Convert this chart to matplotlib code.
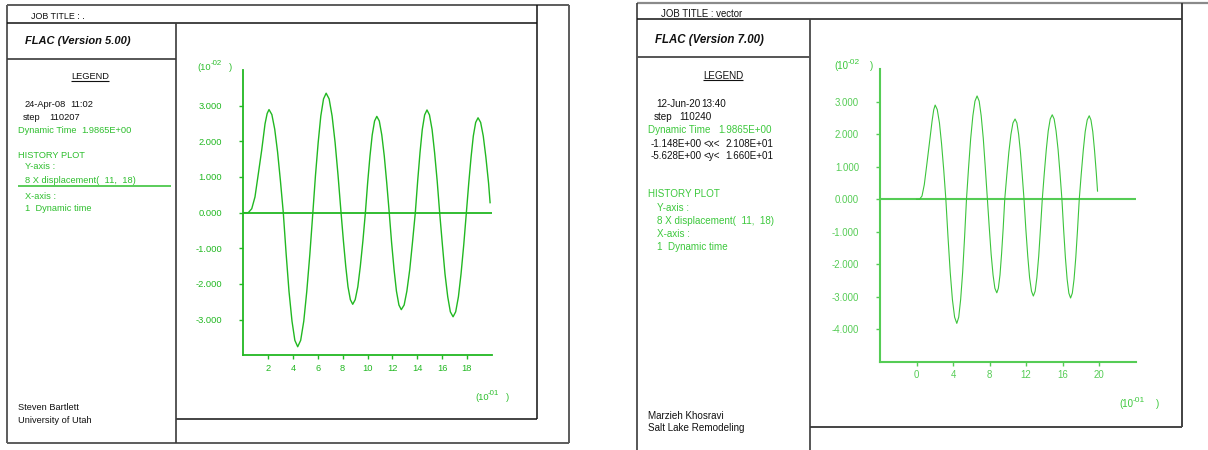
import matplotlib
matplotlib.use("Agg")
import matplotlib.pyplot as plt

plt.rcParams['font.family'] = ['Liberation Sans', 'DejaVu Sans']

# ---- history data: dynamic time (x 10^-1 s) vs x displacement (x 10^-2) ----
v5_time = [0.00, 0.40, 0.68, 0.94, 1.21, 1.48, 1.75, 1.92, 2.07, 2.30, 2.53, 2.76, 2.99, 3.22,
           3.45, 3.68, 3.92, 4.15, 4.38, 4.62, 4.87, 5.11, 5.36, 5.60,
           5.81, 6.03, 6.24, 6.46, 6.67, 6.91, 7.15, 7.39, 7.63, 7.87,
           8.06, 8.25, 8.43, 8.62, 8.81, 9.01, 9.22, 9.42, 9.63, 9.83,
           10.01, 10.20, 10.38, 10.57, 10.75, 10.95, 11.15, 11.35, 11.55, 11.75,
           11.94, 12.14, 12.33, 12.53, 12.72, 12.95, 13.17, 13.40, 13.62, 13.85,
           14.04, 14.23, 14.41, 14.60, 14.79, 14.99, 15.20, 15.40, 15.61, 15.81,
           16.03, 16.24, 16.46, 16.67, 16.89, 17.10, 17.32, 17.53, 17.75, 17.96,
           18.15, 18.34, 18.52, 18.71, 18.90, 19.11, 19.32, 19.53, 19.75, 19.87]
v5_xdisp = [0.00, 0.00, 0.11, 0.44, 1.09, 1.75, 2.49, 2.78, 2.89, 2.75, 2.34, 1.70, 0.89, 0.00,
            -1.16, -2.21, -3.04, -3.58, -3.76, -3.58, -3.04, -2.21, -1.16, 0.00,
            1.04, 1.97, 2.71, 3.19, 3.35, 3.19, 2.71, 1.97, 1.04, 0.00,
            -0.79, -1.51, -2.08, -2.44, -2.57, -2.44, -2.08, -1.51, -0.79, 0.00,
            0.83, 1.59, 2.18, 2.57, 2.70, 2.57, 2.18, 1.59, 0.83, 0.00,
            -0.84, -1.60, -2.20, -2.59, -2.72, -2.59, -2.20, -1.60, -0.84, 0.00,
            0.89, 1.69, 2.33, 2.74, 2.88, 2.74, 2.33, 1.69, 0.89, 0.00,
            -0.90, -1.72, -2.36, -2.78, -2.92, -2.78, -2.36, -1.72, -0.90, 0.00,
            0.82, 1.56, 2.15, 2.53, 2.66, 2.53, 2.15, 1.56, 0.82, 0.28]

v7_time = [0.00, 0.33, 0.60, 0.85, 1.13, 1.42, 1.70, 1.88, 2.04, 2.27, 2.51, 2.74, 2.98, 3.21,
           3.45, 3.69, 3.93, 4.17, 4.41, 4.62, 4.83, 5.05, 5.26, 5.47,
           5.70, 5.93, 6.17, 6.40, 6.63, 6.86, 7.08, 7.31, 7.53, 7.76,
           7.97, 8.17, 8.38, 8.58, 8.79, 8.96, 9.14, 9.31, 9.49, 9.66,
           9.89, 10.11, 10.34, 10.56, 10.79, 10.99, 11.18, 11.38, 11.57, 11.77,
           11.97, 12.18, 12.38, 12.59, 12.79, 12.99, 13.18, 13.38, 13.57, 13.77,
           13.99, 14.21, 14.42, 14.64, 14.86, 15.07, 15.28, 15.50, 15.71, 15.92,
           16.11, 16.30, 16.49, 16.68, 16.87, 17.06, 17.25, 17.44, 17.63, 17.82,
           18.04, 18.26, 18.47, 18.69, 18.91, 19.10, 19.30, 19.49, 19.69, 19.82]
v7_xdisp = [0.00, 0.00, 0.10, 0.45, 1.08, 1.75, 2.40, 2.75, 2.90, 2.76, 2.35, 1.71, 0.90, 0.00,
            -1.18, -2.25, -3.09, -3.63, -3.82, -3.63, -3.09, -2.25, -1.18, 0.00,
            0.98, 1.87, 2.57, 3.02, 3.18, 3.02, 2.57, 1.87, 0.98, 0.00,
            -0.89, -1.69, -2.33, -2.74, -2.88, -2.74, -2.33, -1.69, -0.89, 0.00,
            0.76, 1.45, 2.00, 2.35, 2.47, 2.35, 2.00, 1.45, 0.76, 0.00,
            -0.92, -1.75, -2.41, -2.83, -2.98, -2.83, -2.41, -1.75, -0.92, 0.00,
            0.80, 1.53, 2.10, 2.47, 2.60, 2.47, 2.10, 1.53, 0.80, 0.00,
            -0.94, -1.79, -2.46, -2.89, -3.04, -2.89, -2.46, -1.79, -0.94, 0.00,
            0.79, 1.51, 2.08, 2.44, 2.57, 2.44, 2.08, 1.51, 0.79, 0.25]

v5_xticks = [2, 4, 6, 8, 10, 12, 14, 16, 18]
v5_yticks = [-3, -2, -1, 0, 1, 2, 3]
v7_xticks = [0, 4, 8, 12, 16, 20]
v7_yticks = [-4, -3, -2, -1, 0, 1, 2, 3]

# ---- page setup (pixel coordinates, y downward) ----
W, H = 1208, 450
fig = plt.figure(figsize=(W / 100, H / 100), dpi=100)
page = fig.add_axes([0, 0, 1, 1])
page.set_xlim(0, W)
page.set_ylim(H, 0)
page.axis('off')

DARK = '#111111'
FRAME = '#5c5c5c'
G5 = '#2ebf2e'
G7 = '#3cc83c'


def seg(x0, y0, x1, y1, color=DARK, lw=1.1):
    page.plot([x0, x1], [y0, y1], color=color, lw=lw, solid_capstyle='butt')


def txt(x, y, s, size, color=DARK, **kw):
    page.text(x, y, s, fontsize=size, color=color, ha='left', va='baseline', **kw)


def scale_label(x, y, exp, size, color, close_dx):
    txt(x, y, '(10', size, color)
    txt(x + 12.6 * size / 6.5, y - 5.0, exp, size * 0.85, color)
    txt(x + close_dx, y, ')', size, color)


def chart(box, t, d, xlim, ylim, xticks, yticks, axis_color, curve_color,
          lw_axis, lw_curve, fs, ypad, xpad):
    x0, y0, x1, y1 = box
    ax = fig.add_axes([x0 / W, 1 - y1 / H, (x1 - x0) / W, (y1 - y0) / H])
    ax.patch.set_alpha(0)
    ax.set_xlim(*xlim)
    ax.set_ylim(*ylim)
    for s in ('top', 'right'):
        ax.spines[s].set_visible(False)
    for s in ('left', 'bottom'):
        ax.spines[s].set_color(axis_color)
        ax.spines[s].set_linewidth(lw_axis)
    ax.axhline(0, color=axis_color, lw=lw_axis)
    ax.plot(t, d, color=curve_color, lw=lw_curve)
    ax.set_xticks(xticks)
    ax.set_xticklabels([str(v) for v in xticks])
    ax.set_yticks(yticks)
    ax.set_yticklabels([f"{v:.3f}" for v in yticks])
    ax.tick_params(colors=axis_color, labelcolor=axis_color, labelsize=fs,
                   length=3, width=1.0, direction='out')
    ax.tick_params(axis='y', pad=ypad)
    ax.tick_params(axis='x', pad=xpad)
    return ax


# ================= FLAC 5.00 panel =================
seg(7, 5, 569, 5, FRAME, 1.4)
seg(7, 5, 7, 443, FRAME, 1.4)
seg(569, 5, 569, 443, FRAME, 1.4)
seg(7, 443, 569, 443, FRAME, 1.4)
seg(7, 22.7, 536.7, 22.7)
seg(536.7, 5, 536.7, 419)
seg(176, 419, 536.7, 419)
seg(176, 22.7, 176, 443, '#3a3a3a', 1.2)
seg(7, 59.3, 176, 59.3, '#3a3a3a', 1.2)

FS5 = 6.7
txt(30.7, 19, 'JOB TITLE : .', 6.4)
txt(25, 44.3, 'FLAC (Version 5.00)', 8.0, weight='bold', style='italic')
txt(71, 79, 'LEGEND', FS5)
seg(71, 80.8, 109, 80.8, DARK, 0.8)
txt(25, 106.7, '24-Apr-08', FS5)
txt(70, 106.7, '11:02', FS5)
txt(22.7, 120, 'step', FS5)
txt(49.3, 120, '110207', FS5)
txt(18.3, 132.7, 'Dynamic Time', FS5, G5)
txt(81.7, 132.7, '1.9865E+00', FS5, G5)
txt(18.3, 157.7, 'HISTORY PLOT', FS5, G5)
txt(25, 169.3, 'Y-axis :', FS5, G5)
txt(25, 183, '8 X displacement(  11,  18)', FS5, G5)
seg(18.3, 186.2, 171, 186.2, G5, 1.1)
txt(25, 198.7, 'X-axis :', FS5, G5)
txt(25, 211, '1  Dynamic time', FS5, G5)
txt(18.3, 410, 'Steven Bartlett', FS5)
txt(18.3, 422.7, 'University of Utah', FS5)

chart((243.3, 70, 491.7, 355.3), v5_time, v5_xdisp, (0, 20), (-4, 4),
      v5_xticks, v5_yticks, '#22b822', '#22b822', 1.3, 1.0, 6.7, 12.4, 3.4)
scale_label(197.7, 70.2, '-02', 6.7, G5, 31.3)
scale_label(475, 400.2, '-01', 6.7, G5, 31.0)

# ================= FLAC 7.00 panel =================
seg(637, 2.7, 1208, 2.7, '#8a8a8a', 1.6)
seg(637, 2.7, 637, 450, '#3a3a3a', 1.2)
seg(637, 19.3, 1182.3, 19.3)
seg(1182.3, 2.7, 1182.3, 426.7, '#333333', 1.3)
seg(810.3, 426.7, 1182.3, 426.7, '#444444', 1.4)
seg(810.3, 19.3, 810.3, 450, '#3a3a3a', 1.2)
seg(637, 57.3, 810.3, 57.3, '#555555', 1.4)

FS7 = 7.1
txt(660.7, 16.7, 'JOB TITLE : vector', 6.9)
txt(655, 43.3, 'FLAC (Version 7.00)', 8.3, weight='bold', style='italic')
txt(703.3, 78.7, 'LEGEND', FS7)
seg(703.3, 80.3, 743.3, 80.3, DARK, 0.8)
txt(656.7, 107.3, '12-Jun-20', FS7)
txt(701.7, 107.3, '13:40', FS7)
txt(654, 120, 'step', FS7)
txt(679.3, 120, '110240', FS7)
txt(648.3, 133.3, 'Dynamic Time', FS7, G7)
txt(718.3, 133.3, '1.9865E+00', FS7, G7)
txt(650.7, 146.7, '-1.148E+00', FS7)
txt(704, 146.7, '<x<', FS7)
txt(725.7, 146.7, '2.108E+01', FS7)
txt(650.7, 159.3, '-5.628E+00', FS7)
txt(704, 159.3, '<y<', FS7)
txt(725.7, 159.3, '1.660E+01', FS7)
txt(648.3, 197.3, 'HISTORY PLOT', FS7, G7)
txt(656.7, 210.7, 'Y-axis :', FS7, G7)
txt(656.7, 224, '8 X displacement(  11,  18)', FS7, G7)
txt(656.7, 236.7, 'X-axis :', FS7, G7)
txt(656.7, 250, '1  Dynamic time', FS7, G7)
txt(648.3, 418.7, 'Marzieh Khosravi', FS7)
txt(648.3, 431.3, 'Salt Lake Remodeling', FS7)

chart((880, 69.3, 1135.7, 361.7), v7_time, v7_xdisp, (-4, 24), (-5, 4),
      v7_xticks, v7_yticks, '#55cc55', '#3cc43c', 1.5, 0.8, 6.9, 12.0, 3.3)
scale_label(834, 68.7, '-02', 7.0, G7, 36.0)
scale_label(1119.3, 407, '-01', 7.0, G7, 36.7)

fig.savefig('out.png', dpi=100)
